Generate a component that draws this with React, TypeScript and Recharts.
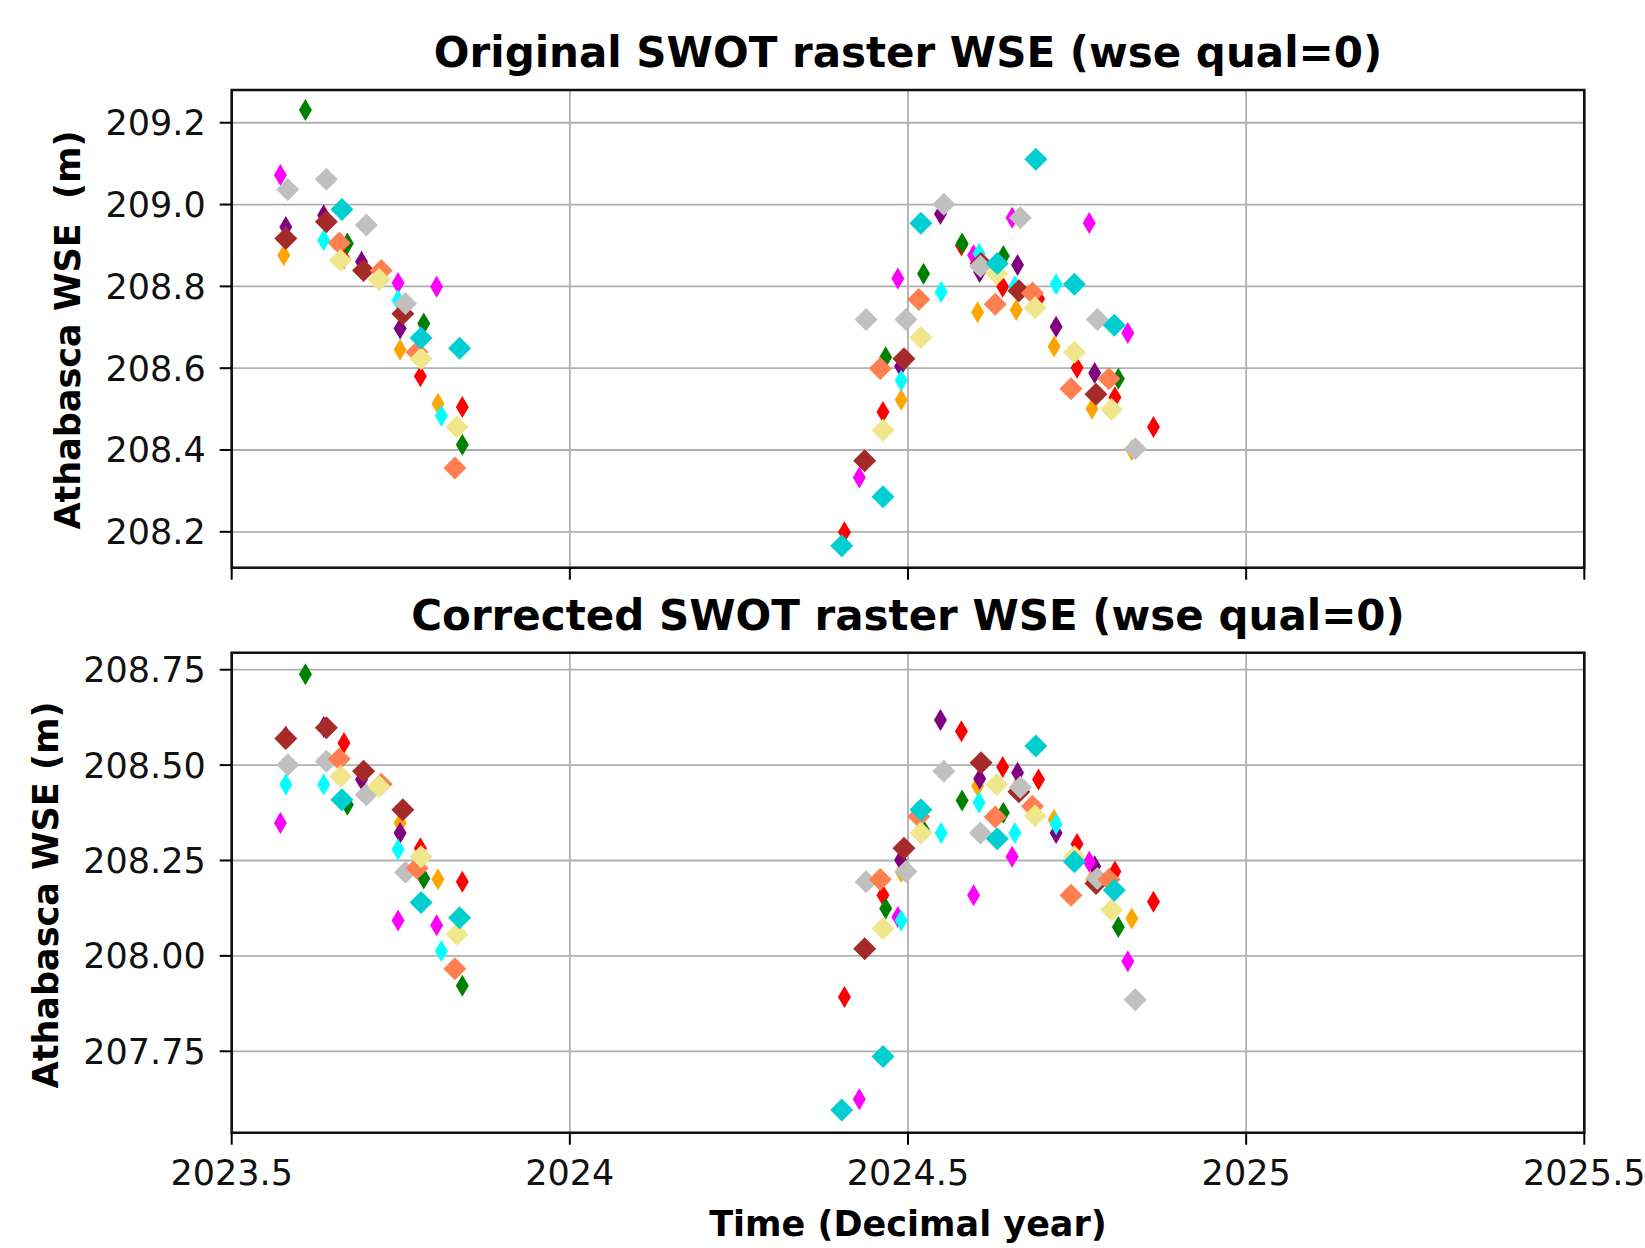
import React from 'react';
import { ScatterChart, Scatter, XAxis, YAxis, CartesianGrid, ReferenceArea } from 'recharts';

// [decimal year, original WSE (m), corrected WSE (m)]
type Row = [number, number, number];

const RED: Row[] = [
  [2023.666, 208.868, 208.558], [2023.779, 208.58, 208.282], [2023.841, 208.505, 208.194],
  [2024.406, 208.199, 207.892], [2024.463, 208.493, 208.159], [2024.579, 208.9, 208.589],
  [2024.64, 208.799, 208.495], [2024.693, 208.77, 208.462], [2024.75, 208.601, 208.293],
  [2024.806, 208.529, 208.221], [2024.863, 208.456, 208.142],
];
const GREEN: Row[] = [
  [2023.609, 209.231, 208.738], [2023.671, 208.905, 208.396], [2023.784, 208.709, 208.203],
  [2023.841, 208.413, 207.922], [2024.467, 208.627, 208.124], [2024.523, 208.831, 208.33],
  [2024.58, 208.905, 208.407], [2024.641, 208.874, 208.375], [2024.811, 208.574, 208.076],
];
const ORANGE: Row[] = [
  [2023.577, 208.876, 208.57], [2023.749, 208.645, 208.348], [2023.805, 208.513, 208.201],
  [2024.49, 208.523, 208.22], [2024.603, 208.737, 208.445], [2024.66, 208.742, 208.44],
  [2024.716, 208.653, 208.357], [2024.772, 208.501, 208.2], [2024.831, 208.4, 208.098],
];
const PURPLE: Row[] = [
  [2023.58, 208.945, 208.575], [2023.636, 208.974, 208.6], [2023.692, 208.86, 208.462],
  [2023.749, 208.697, 208.322], [2024.489, 208.605, 208.251], [2024.548, 208.977, 208.618],
  [2024.606, 208.835, 208.464], [2024.662, 208.852, 208.48], [2024.719, 208.701, 208.322],
  [2024.776, 208.588, 208.235],
];
const MAGENTA: Row[] = [
  [2023.572, 209.072, 208.348], [2023.746, 208.808, 208.093], [2023.803, 208.799, 208.08],
  [2024.428, 208.333, 207.624], [2024.485, 208.819, 208.102], [2024.597, 208.876, 208.159],
  [2024.654, 208.968, 208.26], [2024.768, 208.955, 208.247], [2024.825, 208.686, 207.986],
];
const CYAN: Row[] = [
  [2023.58, 208.92, 208.449], [2023.636, 208.913, 208.449], [2023.746, 208.766, 208.279],
  [2023.81, 208.484, 208.013], [2024.49, 208.57, 208.093], [2024.549, 208.786, 208.322],
  [2024.605, 208.88, 208.402], [2024.658, 208.8, 208.322], [2024.719, 208.805, 208.345],
];
const BROWN: Row[] = [
  [2023.58, 208.917, 208.57], [2023.64, 208.958, 208.598], [2023.695, 208.839, 208.484],
  [2023.753, 208.733, 208.383], [2024.436, 208.374, 208.019], [2024.494, 208.623, 208.282],
  [2024.608, 208.856, 208.506], [2024.664, 208.789, 208.43], [2024.778, 208.536, 208.19],
];
const SILVER: Row[] = [
  [2023.583, 209.037, 208.501], [2023.64, 209.062, 208.51], [2023.699, 208.95, 208.422],
  [2023.757, 208.758, 208.219], [2024.438, 208.719, 208.194], [2024.497, 208.719, 208.221],
  [2024.553, 209.001, 208.484], [2024.607, 208.849, 208.322], [2024.666, 208.968, 208.442],
  [2024.78, 208.719, 208.203], [2024.836, 208.403, 207.885],
];
const CORAL: Row[] = [
  [2023.659, 208.906, 208.516], [2023.721, 208.839, 208.45], [2023.774, 208.639, 208.23],
  [2023.83, 208.356, 207.966], [2024.459, 208.599, 208.2], [2024.516, 208.768, 208.365],
  [2024.629, 208.756, 208.364], [2024.684, 208.784, 208.392], [2024.741, 208.55, 208.159],
  [2024.797, 208.574, 208.2],
];
const KHAKI: Row[] = [
  [2023.661, 208.864, 208.47], [2023.718, 208.817, 208.444], [2023.78, 208.623, 208.26],
  [2023.833, 208.456, 208.057], [2024.463, 208.448, 208.072], [2024.519, 208.675, 208.322],
  [2024.631, 208.831, 208.449], [2024.688, 208.748, 208.367], [2024.746, 208.639, 208.26],
  [2024.801, 208.499, 208.12],
];
const DARKTURQUOISE: Row[] = [
  [2023.663, 208.988, 208.409], [2023.78, 208.674, 208.14], [2023.837, 208.649, 208.1],
  [2024.402, 208.166, 207.596], [2024.463, 208.286, 207.736], [2024.519, 208.954, 208.383],
  [2024.632, 208.856, 208.307], [2024.689, 209.111, 208.55], [2024.746, 208.805, 208.247],
  [2024.805, 208.705, 208.172],
];

const SERIES = [
  { name: 'red', color: '#ff0000', big: false, rows: RED },
  { name: 'green', color: '#008000', big: false, rows: GREEN },
  { name: 'orange', color: '#ffa500', big: false, rows: ORANGE },
  { name: 'purple', color: '#800080', big: false, rows: PURPLE },
  { name: 'magenta', color: '#ff00ff', big: false, rows: MAGENTA },
  { name: 'cyan', color: '#00ffff', big: false, rows: CYAN },
  { name: 'brown', color: '#a52a2a', big: true, rows: BROWN },
  { name: 'silver', color: '#c0c0c0', big: true, rows: SILVER },
  { name: 'coral', color: '#ff7f50', big: true, rows: CORAL },
  { name: 'khaki', color: '#f0e68c', big: true, rows: KHAKI },
  { name: 'darkturquoise', color: '#00ced1', big: true, rows: DARKTURQUOISE },
];

const X_TICKS = [2023.5, 2024, 2024.5, 2025, 2025.5];
const TOP_TICKS = [208.2, 208.4, 208.6, 208.8, 209.0, 209.2];
const BOTTOM_TICKS = [207.75, 208.0, 208.25, 208.5, 208.75];

const FONT = "'DejaVu Sans', Verdana, sans-serif";

const ThinDiamond = (props: any) => {
  const { cx, cy, fill } = props;
  if (cx == null || cy == null) return null;
  return <path d={`M${cx},${cy - 11}L${cx + 6.5},${cy}L${cx},${cy + 11}L${cx - 6.5},${cy}Z`} fill={fill} />;
};
const BigDiamond = (props: any) => {
  const { cx, cy, fill } = props;
  if (cx == null || cy == null) return null;
  return <path d={`M${cx},${cy - 11.5}L${cx + 11.5},${cy}L${cx},${cy + 11.5}L${cx - 11.5},${cy}Z`} fill={fill} />;
};

type PanelProps = {
  height: number;
  top: number;
  marginTop: number;
  xAxisHeight: number;
  yDomain: [number, number];
  yTicks: number[];
  digits: number;
  valueIndex: 1 | 2;
  showXLabels: boolean;
};

function Panel({ height, top, marginTop, xAxisHeight, yDomain, yTicks, digits, valueIndex, showXLabels }: PanelProps) {
  return (
    <div style={{ position: 'absolute', left: 0, top }}>
      <ScatterChart width={1645} height={height} margin={{ top: marginTop, right: 60.7, bottom: 0, left: 0 }}>
        <CartesianGrid stroke="#b0b0b0" strokeWidth={1.8} />
        <XAxis
          type="number"
          dataKey="x"
          domain={[2023.5, 2025.5]}
          ticks={X_TICKS}
          interval={0}
          allowDataOverflow
          height={xAxisHeight}
          tickSize={12}
          tickMargin={15}
          axisLine={false}
          tickLine={{ stroke: '#000', strokeWidth: 2 }}
          tick={{ fill: '#111', fontSize: 35, fontFamily: FONT }}
          tickFormatter={(v: number) => (showXLabels ? String(v) : '')}
        />
        <YAxis
          type="number"
          dataKey="y"
          domain={yDomain}
          ticks={yTicks}
          interval={0}
          allowDataOverflow
          width={231.7}
          tickSize={12}
          tickMargin={14}
          axisLine={false}
          tickLine={{ stroke: '#000', strokeWidth: 2 }}
          tick={{ fill: '#111', fontSize: 35, fontFamily: FONT }}
          tickFormatter={(v: number) => v.toFixed(digits)}
        />
        {SERIES.map((s) => (
          <Scatter
            key={s.name}
            name={s.name}
            data={s.rows.map((r) => ({ x: r[0], y: r[valueIndex] }))}
            fill={s.color}
            shape={s.big ? BigDiamond : ThinDiamond}
            isAnimationActive={false}
          />
        ))}
        <ReferenceArea
          x1={2023.5}
          x2={2025.5}
          y1={yDomain[0]}
          y2={yDomain[1]}
          fill="none"
          fillOpacity={0}
          stroke="#111"
          strokeWidth={2.6}
          ifOverflow="visible"
        />
      </ScatterChart>
    </div>
  );
}

export default function App() {
  const titleStyle = { fontFamily: FONT, fontWeight: 'bold' as const, fontSize: 42, fill: '#000' };
  const labelStyle = { fontFamily: FONT, fontWeight: 'bold' as const, fontSize: 35, fill: '#000', whiteSpace: 'pre' as const };
  return (
    <div style={{ position: 'absolute', left: 0, top: 0, width: 1645, height: 1248, background: '#fff' }}>
      <Panel
        height={600}
        top={0}
        marginTop={90}
        xAxisHeight={32.3}
        yDomain={[208.1123, 209.28]}
        yTicks={TOP_TICKS}
        digits={1}
        valueIndex={1}
        showXLabels={false}
      />
      <Panel
        height={648}
        top={600}
        marginTop={52.7}
        xAxisHeight={115.3}
        yDomain={[207.5366, 208.7946]}
        yTicks={BOTTOM_TICKS}
        digits={2}
        valueIndex={2}
        showXLabels={true}
      />
      <svg width={1645} height={1248} style={{ position: 'absolute', left: 0, top: 0, pointerEvents: 'none' }}>
        <text x={908} y={67} textAnchor="middle" style={titleStyle}>Original SWOT raster WSE (wse qual=0)</text>
        <text x={908} y={630} textAnchor="middle" style={titleStyle}>Corrected SWOT raster WSE (wse qual=0)</text>
        <text x={80} y={330} textAnchor="middle" transform="rotate(-90 80 330)" style={labelStyle}>Athabasca WSE  (m)</text>
        <text x={58} y={895} textAnchor="middle" transform="rotate(-90 58 895)" style={labelStyle}>Athabasca WSE (m)</text>
        <text x={908} y={1236} textAnchor="middle" style={labelStyle}>Time (Decimal year)</text>
      </svg>
    </div>
  );
}
